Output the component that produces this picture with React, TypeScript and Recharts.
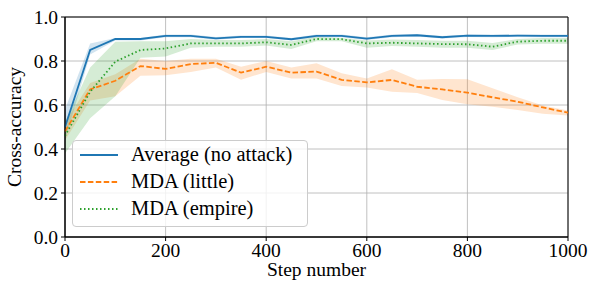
import React from 'react';
import {
  ComposedChart, Line, Area, XAxis, YAxis, CartesianGrid, Legend, ReferenceArea,
} from 'recharts';

const steps = [0, 50, 100, 150, 200, 250, 300, 350, 400, 450, 500, 550, 600, 650, 700, 750, 800, 850, 900, 950, 1000];

const avgMean = [0.5, 0.85, 0.9, 0.9, 0.914, 0.914, 0.903, 0.91, 0.91, 0.899, 0.914, 0.914, 0.902, 0.914, 0.917, 0.908, 0.915, 0.914, 0.915, 0.914, 0.914];
const avgLow = [0.44, 0.83, 0.893, 0.893, 0.908, 0.908, 0.897, 0.904, 0.904, 0.893, 0.908, 0.908, 0.896, 0.908, 0.911, 0.902, 0.909, 0.908, 0.909, 0.908, 0.908];
const avgHigh = [0.58, 0.88, 0.905, 0.905, 0.92, 0.92, 0.909, 0.916, 0.916, 0.905, 0.92, 0.92, 0.908, 0.92, 0.923, 0.914, 0.921, 0.92, 0.921, 0.92, 0.92];

const littleMean = [0.48, 0.671, 0.71, 0.777, 0.764, 0.786, 0.792, 0.747, 0.774, 0.747, 0.752, 0.714, 0.703, 0.714, 0.683, 0.671, 0.656, 0.635, 0.615, 0.589, 0.565];
const littleLow = [0.44, 0.62, 0.64, 0.733, 0.735, 0.75, 0.77, 0.715, 0.75, 0.72, 0.72, 0.686, 0.68, 0.66, 0.655, 0.623, 0.603, 0.592, 0.577, 0.56, 0.552];
const littleHigh = [0.52, 0.7, 0.74, 0.81, 0.8, 0.81, 0.81, 0.774, 0.8, 0.77, 0.79, 0.744, 0.72, 0.762, 0.715, 0.718, 0.717, 0.676, 0.635, 0.598, 0.575];

const empireMean = [0.46, 0.66, 0.797, 0.85, 0.857, 0.88, 0.88, 0.88, 0.885, 0.873, 0.9, 0.899, 0.88, 0.883, 0.88, 0.877, 0.876, 0.865, 0.888, 0.892, 0.892];
const empireLow = [0.38, 0.54, 0.64, 0.815, 0.82, 0.86, 0.865, 0.865, 0.87, 0.855, 0.89, 0.89, 0.86, 0.868, 0.865, 0.86, 0.86, 0.85, 0.875, 0.878, 0.878];
const empireHigh = [0.52, 0.77, 0.888, 0.89, 0.89, 0.9, 0.895, 0.895, 0.9, 0.89, 0.91, 0.905, 0.893, 0.898, 0.895, 0.892, 0.892, 0.882, 0.9, 0.905, 0.905];

const xTicks = [0, 200, 400, 600, 800, 1000];
const yTicks = [0, 0.2, 0.4, 0.6, 0.8, 1.0];

const seriesNames = ['Average (no attack)', 'MDA (little)', 'MDA (empire)'];
const colors = ['#1f77b4', '#ff7f0e', '#2ca02c'];
const dashes = ['', '5.5 2.4', '1.5 2.5'];

const data = steps.map((s, i) => ({
  step: s,
  avg: avgMean[i],
  avgRange: [avgLow[i], avgHigh[i]],
  little: littleMean[i],
  littleRange: [littleLow[i], littleHigh[i]],
  empire: empireMean[i],
  empireRange: [empireLow[i], empireHigh[i]],
}));

const FONT = '"Liberation Serif"';
const FS = 19.5;

const LegendBox = () => (
  <div
    style={{
      boxSizing: 'border-box',
      width: 236,
      height: 87,
      background: 'rgba(255,255,255,0.8)',
      border: '1px solid #cccccc',
      borderRadius: 4,
      fontFamily: FONT,
      fontSize: 20.5,
      color: '#000',
    }}
  >
    {seriesNames.map((n, i) => (
      <div key={n} style={{ display: 'flex', alignItems: 'center', height: 27, whiteSpace: 'nowrap' }}>
        <svg width={58} height={10} style={{ flex: 'none' }}>
          <line x1={7} x2={45} y1={5} y2={5} stroke={colors[i]} strokeWidth={1.8} strokeDasharray={dashes[i] || undefined} />
        </svg>
        <span style={{ fontFamily: FONT }}>{n}</span>
      </div>
    ))}
  </div>
);

export default function App() {
  return (
    <div style={{ position: 'fixed', left: 0, top: 0, width: 598, height: 292, background: '#fff' }}>
      <ComposedChart
        width={598}
        height={292}
        data={data}
        margin={{ top: 17, right: 30, bottom: 15, left: 0 }}
      >
        <CartesianGrid stroke="#b0b0b0" strokeWidth={0.8} />
        <XAxis
          dataKey="step"
          type="number"
          domain={[0, 1000]}
          ticks={xTicks}
          height={40}
          tickSize={4}
          tickMargin={2}
          stroke="#000"
          tick={{ fill: '#000', fontSize: FS, fontFamily: FONT }}
          label={{ value: 'Step number', position: 'insideBottom', offset: 1, fill: '#000', fontSize: FS, fontFamily: FONT }}
        />
        <YAxis
          type="number"
          domain={[0, 1]}
          ticks={yTicks}
          width={65}
          tickSize={4}
          tickMargin={3}
          stroke="#000"
          tickFormatter={(v: number) => v.toFixed(1)}
          tick={{ fill: '#000', fontSize: FS, fontFamily: FONT }}
          label={{ value: 'Cross-accuracy', angle: -90, position: 'insideLeft', offset: 14, fill: '#000', fontSize: FS, fontFamily: FONT, style: { textAnchor: 'middle' } }}
        />
        <Area type="linear" dataKey="avgRange" stroke="none" fill={colors[0]} fillOpacity={0.2} isAnimationActive={false} legendType="none" />
        <Area type="linear" dataKey="littleRange" stroke="none" fill={colors[1]} fillOpacity={0.2} isAnimationActive={false} legendType="none" />
        <Area type="linear" dataKey="empireRange" stroke="none" fill={colors[2]} fillOpacity={0.2} isAnimationActive={false} legendType="none" />
        <Line type="linear" dataKey="avg" stroke={colors[0]} strokeWidth={1.8} dot={false} isAnimationActive={false} />
        <Line type="linear" dataKey="little" stroke={colors[1]} strokeWidth={1.8} strokeDasharray={dashes[1]} dot={false} isAnimationActive={false} />
        <Line type="linear" dataKey="empire" stroke={colors[2]} strokeWidth={1.8} strokeDasharray={dashes[2]} dot={false} isAnimationActive={false} />
        <ReferenceArea x1={0} x2={1000} y1={0} y2={1} fill="none" stroke="#000" strokeWidth={1} ifOverflow="visible" />
        <Legend
          layout="horizontal"
          verticalAlign="middle"
          align="center"
          content={() => <LegendBox />}
          wrapperStyle={{ left: 72, top: 140, width: 236, height: 87 }}
        />
      </ComposedChart>
    </div>
  );
}
